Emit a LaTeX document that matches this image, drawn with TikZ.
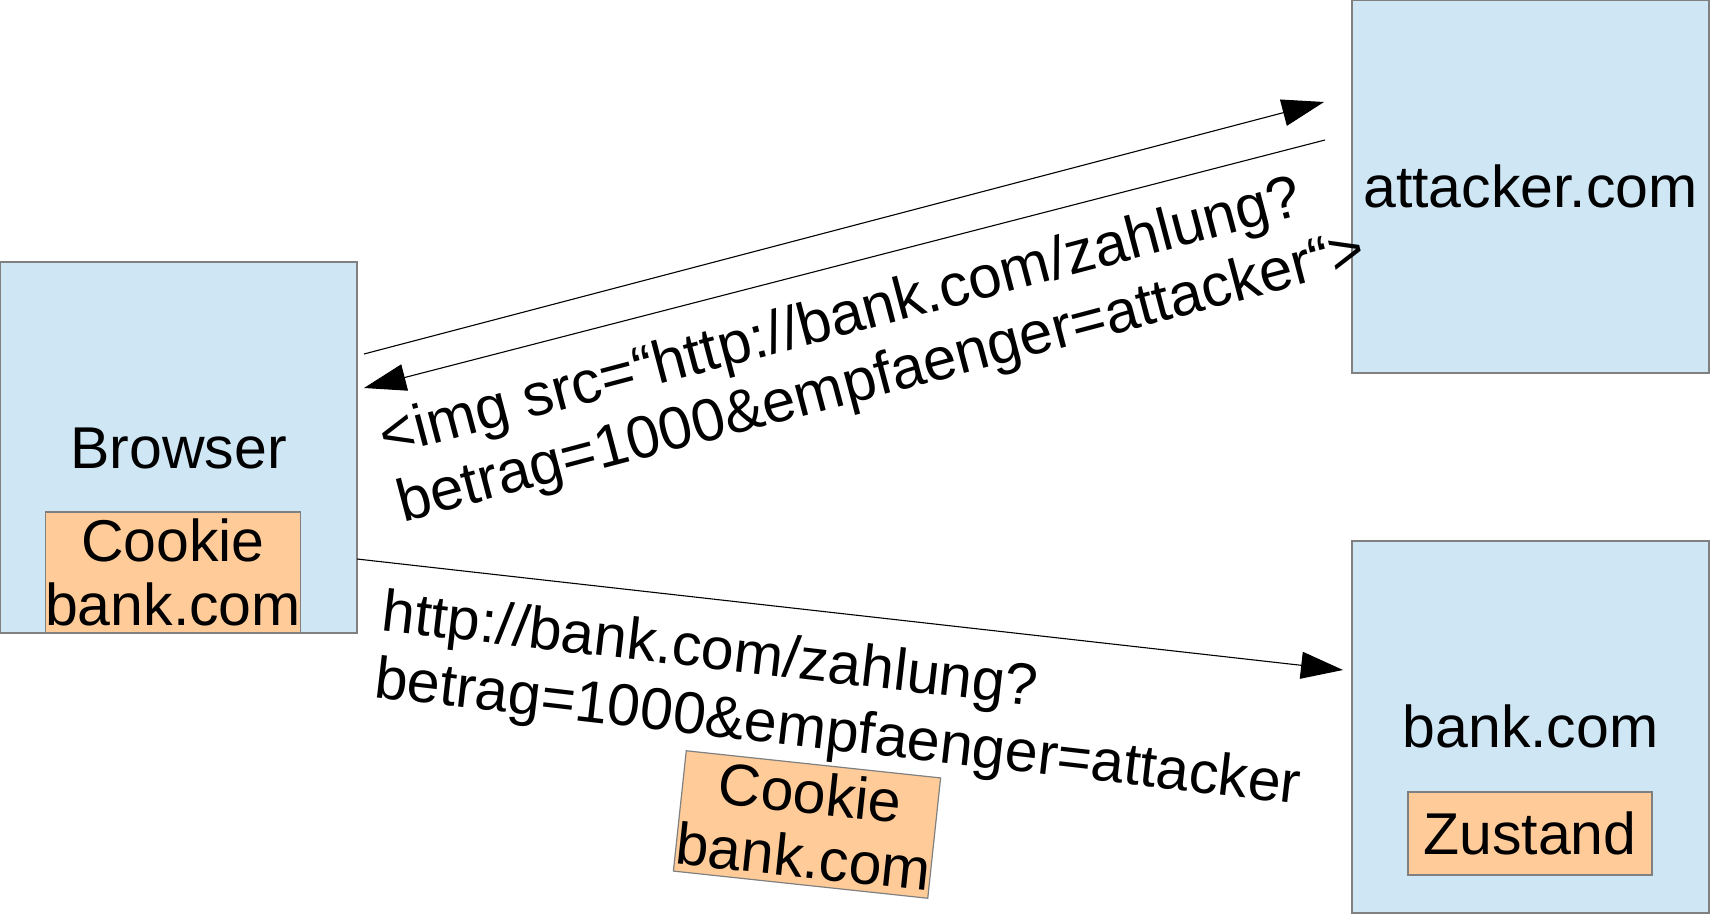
\documentclass[tikz,border=0pt]{standalone}
\usepackage{fontspec}
\setmainfont{Liberation Sans}
\usetikzlibrary{arrows.meta,calc}
\definecolor{boxblue}{RGB}{207,231,245}
\definecolor{cookieorange}{RGB}{255,204,153}
\definecolor{boxline}{RGB}{128,128,128}
\begin{document}
\begin{tikzpicture}[x=1pt,y=1pt,
  txt/.style={font=\fontsize{59}{67}\selectfont, inner sep=0pt, outer sep=0pt},
  host/.style={draw=boxline, line width=1.2pt, fill=boxblue, inner sep=0pt, outer sep=0pt},
  cookiebox/.style={draw=boxline, line width=1.2pt, fill=cookieorange, inner sep=0pt, outer sep=0pt, align=center, font=\fontsize{59}{64}\selectfont},
  msg/.style={line width=1.1pt, -{Triangle[length=42pt,width=27pt]}}]
\useasboundingbox (0,0) rectangle (1710,-915);
% hosts
\node[host, minimum width=357, minimum height=371] (browser) at (178.5,-447.5) {};
\node[host, minimum width=357, minimum height=373] (attacker) at (1530.5,-186.5) {};
\node[host, minimum width=357, minimum height=372] (bank) at (1530.5,-727) {};
% host labels
\node[txt, anchor=base] (browserlbl) at (178.5,-468) {Browser};
\node[txt, anchor=base] (attackerlbl) at (1530.5,-207) {attacker.com};
\node[txt, anchor=base] (banklbl) at (1530.5,-747) {bank.com};
% inner boxes
\node[cookiebox, minimum width=252, minimum height=121] (cookie1) at (173,-572.5) {Cookie\\bank.com};
\node[cookiebox, minimum width=244, minimum height=83] (zustand) at (1530,-833.5) {Zustand};
\node[cookiebox, rotate=-6.1, minimum width=252, minimum height=121] (cookie2) at (807,-824.5) {Cookie\\bank.com};
% connector end points
\coordinate (a1s) at ($(browser.north east)+(7,-92)$);
\coordinate (a1e) at ($(attacker.west)+(-28,84.5)$);
\coordinate (a2s) at ($(attacker.west)+(-27,46.5)$);
\coordinate (a2e) at ($(browser.north east)+(7,-126)$);
\coordinate (a3s) at ($(browser.north east)+(0,-297)$);
\coordinate (a3e) at ($(bank.west)+(-9,57)$);
\draw[msg] (a1s) -- (a1e);
\draw[msg] (a2s) -- (a2e);
\draw[msg] (a3s) -- (a3e);
% message labels (base anchor = baseline of the last line)
\node[txt, font=\fontsize{59.8}{67.5}\selectfont, rotate=14.8, anchor=base west, align=left] (imglbl) at (403,-522)
  {<img src=“http://bank.com/zahlung?\\betrag=1000\&empfaenger=attacker“>};
\node[txt, rotate=-6.6, anchor=base west, align=left] (reqlbl) at (373,-697)
  {http://bank.com/zahlung?\\betrag=1000\&empfaenger=attacker};
\end{tikzpicture}
\end{document}
